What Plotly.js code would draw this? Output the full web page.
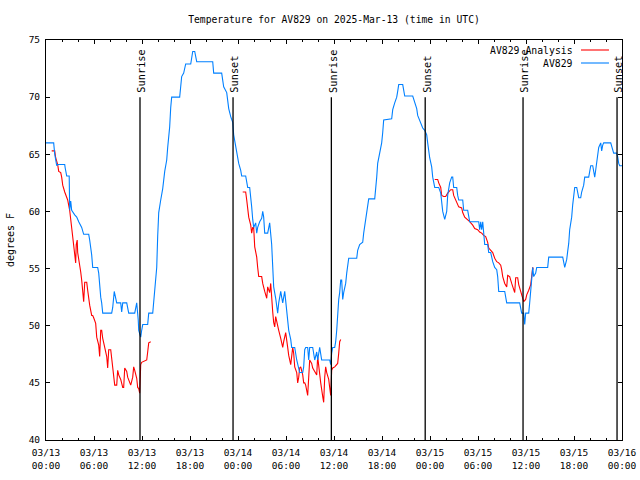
<!DOCTYPE html>
<html><head><meta charset="utf-8">
<script src="https://cdn.plot.ly/plotly-3.0.1.min.js"></script>
<style>html,body{margin:0;padding:0;background:#fff}#chart{width:640px;height:480px}</style>
</head><body><div id="chart"></div>
<script>
// Hours since 2025-03-13 00:00 UTC
var blueH = [0.0,0.96,1.09,1.21,1.34,1.46,2.34,2.4,2.59,2.9,
2.96,3.09,3.21,3.59,3.84,4.09,4.46,4.71,5.34,5.46,
5.59,5.71,5.84,6.46,6.59,6.71,6.84,6.96,7.09,8.21,
8.34,8.53,8.65,8.84,9.34,9.46,9.59,10.09,10.34,11.09,
11.34,11.46,11.53,11.59,11.84,11.96,12.09,12.71,12.84,13.34,
13.46,13.59,13.84,13.96,14.09,14.34,14.59,14.84,15.09,15.21,
15.46,15.59,15.71,16.71,16.84,16.96,17.21,17.46,18.09,18.21,
18.34,18.59,18.71,18.84,20.84,20.96,21.96,22.09,22.21,22.59,
22.84,23.09,23.34,23.46,23.71,23.84,24.09,24.34,24.46,24.96,
25.09,25.21,25.46,25.59,25.71,25.84,25.96,26.21,26.34,26.46,
26.71,26.96,27.09,27.21,27.34,27.71,27.84,27.96,28.21,28.34,
28.46,28.71,28.84,28.96,29.09,29.34,29.46,29.59,29.84,29.96,
30.21,30.34,30.59,30.71,31.09,31.21,31.34,31.71,32.09,32.21,
32.34,32.46,32.71,32.84,32.96,33.34,33.46,33.59,33.84,33.96,
34.21,34.46,35.46,35.59,35.71,35.84,36.09,36.21,36.34,36.46,
36.59,36.71,36.84,36.96,37.09,37.21,37.46,37.59,37.84,38.84,
38.96,39.21,39.59,39.71,39.96,40.21,40.34,41.09,41.21,41.34,
41.46,41.71,41.96,42.09,42.21,43.21,43.34,43.59,43.84,43.96,
44.09,44.59,44.84,45.84,46.09,46.34,46.46,46.71,47.09,47.34,
47.59,47.71,47.96,48.21,48.34,48.59,49.09,49.34,49.46,49.59,
49.84,50.09,50.21,50.46,50.71,50.84,50.96,51.34,51.46,51.59,
52.09,52.21,52.71,52.84,52.96,54.09,54.21,54.34,54.46,54.59,
54.71,54.84,55.21,55.34,55.59,55.71,55.84,56.09,56.34,56.46,
56.59,57.34,57.59,59.21,59.46,59.71,59.84,59.96,60.34,60.46,
60.59,60.71,60.84,60.96,61.21,61.34,62.71,62.84,64.59,64.84,
65.09,65.21,65.34,65.46,65.71,65.84,66.09,66.34,66.59,66.84,
66.96,67.21,67.34,67.84,67.96,68.09,68.34,68.46,68.59,68.71,
68.84,68.96,69.09,69.34,69.46,69.59,69.71,70.59,70.84,70.96,
71.34,71.46,71.59,71.71,72.0];
var blueTemp = [66.0,66.0,65.0,64.5,64.0,64.1,64.1,63.8,63.1,63.1,
60.1,60.9,60.1,59.7,59.5,59.1,58.6,58.0,58.0,57.5,
57.0,56.2,55.1,55.1,54.6,53.4,52.5,52.0,51.1,51.1,
51.6,53.0,52.5,52.0,52.0,51.2,52.0,52.0,51.1,51.1,
52.0,51.2,50.5,49.6,49.0,49.6,50.1,50.1,51.1,51.1,
52.0,53.4,55.1,57.8,59.9,61.0,62.0,63.5,64.5,65.6,
67.4,69.1,70.0,70.0,70.9,71.8,72.1,72.9,72.9,73.7,
74.0,74.0,73.5,73.1,73.1,72.1,72.1,71.3,70.9,70.4,
69.0,68.3,67.8,66.7,65.6,65.1,64.2,63.6,63.1,63.1,
62.6,62.1,62.1,61.4,60.4,59.3,58.6,59.0,58.1,58.6,
59.1,59.4,60.0,59.5,58.1,58.1,58.5,59.0,57.1,55.1,
53.4,52.4,51.6,51.1,52.0,53.0,52.5,52.0,53.0,52.1,
50.5,49.6,48.8,48.1,48.1,47.4,47.0,45.9,45.9,46.4,
47.9,48.1,48.1,47.0,48.1,48.1,47.6,47.0,47.7,47.0,
48.1,47.0,47.0,46.6,47.6,48.1,48.1,48.6,49.6,51.1,
52.3,52.9,54.0,54.0,52.3,52.9,53.7,54.6,55.9,55.9,
56.6,57.1,57.3,58.1,59.3,60.3,61.1,61.1,61.9,63.0,
64.2,65.1,66.0,66.9,68.0,68.1,68.9,69.5,70.0,70.5,
71.1,71.1,70.1,70.1,69.5,69.0,68.4,68.0,67.3,67.1,
66.7,66.0,64.7,63.9,63.0,62.1,62.1,61.6,61.0,60.0,
59.3,60.0,61.4,62.5,63.0,63.0,62.1,62.1,61.4,61.0,
61.0,60.1,60.1,59.3,59.1,59.1,58.4,59.1,58.4,59.1,
57.8,57.1,57.1,56.4,56.4,56.0,55.6,55.1,54.9,54.3,
53.0,53.0,52.0,52.0,51.1,51.1,50.1,51.1,51.1,52.0,
53.1,54.6,55.1,54.3,54.6,55.1,55.1,56.0,56.0,55.1,
55.8,56.5,57.2,58.4,59.5,60.6,62.1,62.1,61.2,61.2,
61.7,62.3,63.0,63.0,63.6,64.0,64.0,63.4,63.0,63.6,
64.5,65.2,65.6,66.0,65.3,65.8,66.0,66.0,65.5,65.1,
65.1,64.8,64.2,64.0,64.0];

var redH1 = [0.71,1.09,1.21,1.46,1.59,1.84,1.96,2.09,2.34,2.59,
2.71,2.96,3.21,3.34,3.46,3.59,3.71,3.78,3.9,3.96,
4.21,4.34,4.46,4.59,4.71,4.84,5.09,5.21,5.34,5.46,
5.71,5.84,5.96,6.21,6.34,6.59,6.71,6.84,6.96,7.09,
7.34,7.59,7.71,7.84,8.09,8.21,8.34,8.59,8.84,8.96,
9.09,9.34,9.59,9.71,9.84,10.09,10.21,10.46,10.59,10.84,
10.96,11.09,11.34,11.46,11.59,11.71,11.84,11.96,12.59,12.71,
12.84,13.09];
var redT1 = [65.3,65.3,64.7,64.1,63.5,63.4,63.0,62.3,61.7,61.2,
61.0,60.1,58.6,57.8,56.9,55.9,55.5,57.1,57.5,56.4,
55.5,54.7,54.0,53.0,52.1,53.8,53.8,53.1,52.3,51.8,
50.9,50.9,50.7,50.2,49.0,48.3,47.3,49.6,49.6,48.9,
48.1,47.3,46.3,47.9,47.9,47.0,46.0,44.8,44.8,46.1,
45.7,45.3,44.6,44.6,46.3,46.0,45.5,45.1,44.8,45.5,
46.4,46.1,45.4,44.6,44.5,44.1,46.6,46.8,47.0,47.7,
48.5,48.6];
var redH2 = [24.59,24.96,25.09,25.21,25.34,25.59,25.71,25.84,25.96,26.09,
26.34,26.46,26.59,26.96,27.09,27.34,27.59,27.71,27.96,28.09,
28.21,28.34,28.46,28.59,28.71,28.84,29.09,29.34,29.59,29.71,
29.96,30.21,30.34,30.59,30.84,30.96,31.09,31.34,31.46,31.59,
31.71,31.84,32.09,32.21,32.34,32.46,32.71,32.84,32.96,33.21,
33.34,33.59,33.84,33.96,34.09,34.34,34.59,34.71,34.84,34.96,
35.09,35.34,35.46,35.59,35.71,35.84,36.09,36.34,36.46,36.59,
36.71,36.84];
var redT2 = [61.7,61.7,61.0,60.3,59.5,58.8,58.1,58.6,58.6,56.9,
56.0,55.1,54.3,54.3,53.7,53.0,52.4,53.4,52.9,53.7,
52.1,51.2,50.3,49.9,50.8,50.3,49.6,48.9,48.1,48.6,
49.4,48.1,47.4,46.6,48.1,47.6,46.4,45.9,45.0,45.5,
46.3,46.4,45.7,45.0,45.0,44.8,43.9,45.5,47.0,46.7,
46.3,46.0,45.7,47.3,46.4,45.0,43.8,43.3,45.5,46.4,
45.9,45.3,44.6,43.9,46.1,46.3,46.4,46.6,46.7,47.6,
48.6,48.8];
var redH3 = [48.59,48.96,49.09,49.34,49.46,49.71,49.96,50.21,50.59,50.84,
50.96,51.34,51.59,51.96,52.09,52.34,52.59,52.96,53.34,53.59,
53.96,54.21,54.46,54.71,54.96,55.21,55.34,55.59,55.84,56.09,
56.34,56.59,56.84,56.96,57.09,57.34,57.59,57.71,57.96,58.21,
58.34,58.59,58.71,58.96,59.09,59.34,59.59,59.71,59.96,60.09,
60.34,60.59,60.71,60.84,60.9];
var redT3 = [62.8,62.8,62.5,62.1,61.4,61.3,61.3,61.6,61.9,61.9,
61.4,60.8,60.4,60.3,59.9,59.5,59.3,59.1,58.8,58.5,
58.4,58.2,58.1,57.9,57.8,57.3,56.8,56.6,56.4,55.9,
55.6,55.5,55.3,54.9,54.3,53.7,53.4,54.4,54.3,53.7,
53.4,52.9,54.2,54.2,53.6,53.0,52.4,52.1,52.3,52.7,
53.1,53.6,54.3,55.1,54.9];

var sunriseH = [11.75, 35.67, 59.63];
var sunsetH = [23.38, 47.40, 71.38];

var tickVals = [0,6,12,18,24,30,36,42,48,54,60,66,72];
var tickText = ['03/13<br>00:00','03/13<br>06:00','03/13<br>12:00','03/13<br>18:00',
'03/14<br>00:00','03/14<br>06:00','03/14<br>12:00','03/14<br>18:00',
'03/15<br>00:00','03/15<br>06:00','03/15<br>12:00','03/15<br>18:00','03/16<br>00:00'];

var seriesNames = ['AV829 Analysis', 'AV829'];
var seriesColors = ['#ff0000', '#0080ff'];

var FONT = 'DejaVu Sans Mono';
var redH = redH1.concat([null], redH2, [null], redH3);
var redT = redT1.concat([null], redT2, [null], redT3);

var traces = [
  {x: redH, y: redT, mode: 'lines', name: seriesNames[0], connectgaps: false,
   line: {color: seriesColors[0], width: 1.1}, showlegend: false, hoverinfo: 'skip'},
  {x: blueH, y: blueTemp, mode: 'lines', name: seriesNames[1],
   line: {color: seriesColors[1], width: 1.1}, showlegend: false, hoverinfo: 'skip'}
];

var shapes = [], annotations = [];
function addEvent(t, label) {
  shapes.push({type: 'line', xref: 'x', yref: 'y', x0: t, x1: t, y0: 40, y1: 70,
    line: {color: '#000', width: 1.3}});
  annotations.push({x: t, y: 70, xref: 'x', yref: 'y', text: label, textangle: -90,
    showarrow: false, xanchor: 'center', yanchor: 'bottom', yshift: 2, xshift: 1,
    font: {family: FONT, size: 10.3, color: '#000'}});
}
sunriseH.forEach(function (t) { addEvent(t, 'Sunrise'); });
sunsetH.forEach(function (t) { addEvent(t, 'Sunset'); });

// key (gnuplot style: text right, sample line after)
var keyY = [0.975, 0.9425];
seriesNames.forEach(function (n, i) {
  annotations.push({x: 0.918, y: keyY[i], xref: 'paper', yref: 'paper', text: n,
    showarrow: false, xanchor: 'right', yanchor: 'middle',
    font: {family: FONT, size: 9.8, color: '#000'}});
  shapes.push({type: 'line', xref: 'paper', yref: 'paper', x0: 0.9288, x1: 0.9774,
    y0: keyY[i], y1: keyY[i], line: {color: seriesColors[i], width: 1.1}});
});

var axisCommon = {
  showline: true, linecolor: '#000', linewidth: 1, mirror: 'ticks',
  ticks: 'inside', ticklen: 4, tickwidth: 1, tickcolor: '#000',
  showgrid: false, zeroline: false,
  tickfont: {family: FONT, size: 9.5, color: '#000'}
};

var layout = {
  width: 640, height: 480,
  margin: {l: 46, r: 18, t: 40, b: 40, pad: 0},
  paper_bgcolor: '#fff', plot_bgcolor: '#fff',
  showlegend: false,
  title: {text: 'Temperature for AV829 on 2025-Mar-13 (time in UTC)',
    font: {family: FONT, size: 9.7, color: '#000'},
    x: 0.5, xref: 'paper', xanchor: 'center', y: 1 - 20 / 480, yref: 'container', yanchor: 'middle'},
  xaxis: Object.assign({}, axisCommon, {
    range: [0, 72], tickmode: 'array', tickvals: tickVals, ticktext: tickText,
    ticklabelstandoff: 4,
    minor: {tickmode: 'linear', tick0: 0, dtick: 2, ticks: 'inside', ticklen: 2, tickwidth: 1, tickcolor: '#000', showgrid: false}
  }),
  yaxis: Object.assign({}, axisCommon, {
    range: [40, 75], tickmode: 'linear', tick0: 40, dtick: 5,
    ticklabelstandoff: 3,
    title: {text: 'degrees F', font: {family: FONT, size: 10, color: '#000'}, standoff: 12}
  }),
  shapes: shapes,
  annotations: annotations
};

Plotly.newPlot('chart', traces, layout, {staticPlot: true, displayModeBar: false});
</script>
</body></html>
